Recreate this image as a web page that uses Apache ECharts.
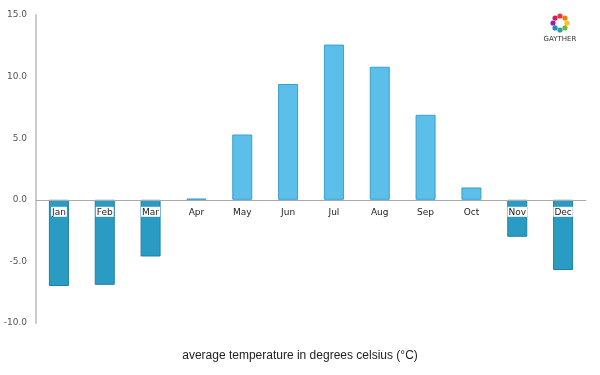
<!DOCTYPE html>
<html>
<head>
<meta charset="utf-8">
<script src="https://cdn.jsdelivr.net/npm/echarts@6/dist/echarts.min.js"></script>
<style>
  html, body { margin: 0; padding: 0; background: #fff; }
  #chart { width: 600px; height: 375px; }
</style>
</head>
<body>
<div id="chart"></div>
<script>
const months = ['Jan', 'Feb', 'Mar', 'Apr', 'May', 'Jun', 'Jul', 'Aug', 'Sep', 'Oct', 'Nov', 'Dec']
const temps = [-7.0, -6.9, -4.6, 0.1, 5.3, 9.4, 12.6, 10.8, 6.9, 1.0, -3.0, -5.7]
const yTicks = [-10, -5, 0, 5, 10, 15]
const logoColors = ['#e53935', '#f57c00', '#fbc02d', '#7cb342', '#26a69a', '#1e88e5', '#8e24aa', '#d81b60']

const chart = echarts.init(document.getElementById('chart'))

// ring of dots standing in for the logo
const logoDots = logoColors.map((c, i) => {
  const a = i / logoColors.length * Math.PI * 2 - Math.PI / 2
  return {
    type: 'circle',
    shape: { cx: 560 + Math.cos(a) * 7, cy: 23 + Math.sin(a) * 7, r: 2.6 },
    style: { fill: c }
  }
})

const gridTop = 15
const gridBottom = 52
const plotH = 375 - gridTop - gridBottom
// push the category axis (line + labels) up to the zero line
const zeroOffset = -plotH * (0 - yTicks[0]) / (yTicks[yTicks.length - 1] - yTicks[0])

const option = {
  animation: false,
  grid: { left: 36, right: 14, top: gridTop, bottom: gridBottom },
  title: {
    text: 'average temperature in degrees celsius (°C)',
    left: 'center',
    bottom: 8,
    textStyle: { fontFamily: 'Liberation Sans', fontSize: 12, fontWeight: 'normal', color: '#222' }
  },
  graphic: [
    ...logoDots,
    {
      type: 'text',
      x: 560, y: 36,
      style: { text: 'GAYTHER', fill: '#333', font: '7px DejaVu Sans', align: 'center' }
    }
  ],
  xAxis: {
    type: 'category',
    data: months,
    z: 10,
    offset: zeroOffset,
    axisLine: { onZero: false, lineStyle: { color: '#aaa', width: 1 } },
    axisTick: { show: false },
    axisLabel: {
      color: '#222',
      fontFamily: 'DejaVu Sans',
      fontSize: 9,
      margin: 7,
      backgroundColor: '#fff',
      padding: [1, 1, 0, 1]
    }
  },
  yAxis: {
    type: 'value',
    min: yTicks[0],
    max: yTicks[yTicks.length - 1],
    interval: 5,
    axisLine: { show: true, lineStyle: { color: '#ccc', width: 2 } },
    axisTick: { show: false },
    splitLine: { show: false },
    axisLabel: {
      color: '#555',
      fontFamily: 'DejaVu Sans',
      fontSize: 9,
      margin: 9,
      formatter: v => v.toFixed(1)
    }
  },
  series: [{
    type: 'bar',
    barWidth: 20,
    data: temps.map(v => ({
      value: v,
      itemStyle: v < 0
        ? { color: '#2a9cc4', borderColor: '#1f7fa3', borderWidth: 1 }
        : { color: '#5bbfe9', borderColor: '#3aa0cc', borderWidth: 1 }
    }))
  }]
}
chart.setOption(option)
</script>
</body>
</html>
